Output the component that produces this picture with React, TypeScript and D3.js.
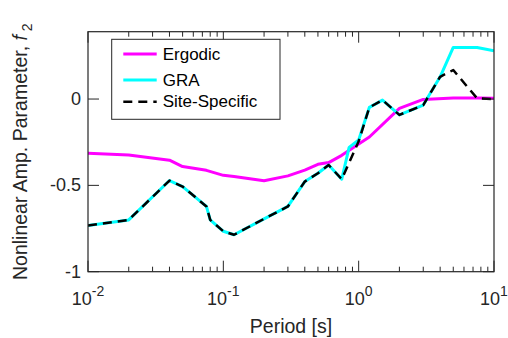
import React from "react";
import * as d3 from "d3";

// Nonlinear amplification parameter f2 versus spectral period
const ergodicPeriod = [0.01, 0.02, 0.04, 0.05, 0.075, 0.1, 0.12, 0.2, 0.3, 0.4, 0.5, 0.6, 0.75, 1, 1.2, 2, 3, 5, 7.5, 10];
const ergodicValue = [-0.314, -0.324, -0.354, -0.391, -0.413, -0.442, -0.449, -0.473, -0.445, -0.412, -0.378, -0.368, -0.326, -0.26, -0.22, -0.054, -0.002, 0.006, 0.006, 0.004];

const graPeriod = [0.01, 0.02, 0.04, 0.05, 0.075, 0.08, 0.1, 0.12, 0.2, 0.3, 0.4, 0.5, 0.6, 0.75, 0.85, 1, 1.2, 1.5, 2, 3, 4, 5, 7.5, 10];
const graValue = [-0.732, -0.7, -0.472, -0.507, -0.622, -0.7, -0.766, -0.786, -0.694, -0.622, -0.478, -0.43, -0.382, -0.464, -0.28, -0.237, -0.048, -0.006, -0.092, -0.035, 0.129, 0.299, 0.299, 0.279];

const sitePeriod = [0.01, 0.02, 0.04, 0.05, 0.075, 0.08, 0.1, 0.12, 0.2, 0.3, 0.4, 0.5, 0.6, 0.75, 1, 1.2, 1.5, 2, 3, 4, 5, 7.5, 10];
const siteValue = [-0.732, -0.7, -0.472, -0.507, -0.622, -0.7, -0.766, -0.786, -0.694, -0.622, -0.478, -0.43, -0.382, -0.464, -0.245, -0.048, -0.006, -0.092, -0.035, 0.129, 0.168, 0.004, 0.0];

const xMajorTicks = [0.01, 0.1, 1, 10];
const xMajorExponents = ["-2", "-1", "0", "1"];
const yTicks = [-1, -0.5, 0];
const yTickLabels = ["-1", "-0.5", "0"];
const legendLabels = ["Ergodic", "GRA", "Site-Specific"];

const W = 508;
const H = 338;
const left = 88;
const right = 494;
const top = 31.7;
const bottom = 271.7;
const ink = "#262626";
const font = "'Liberation Sans', Arial, Helvetica, sans-serif";

export default function App() {
  const x = d3.scaleLog().domain([0.01, 10]).range([left, right]);
  const y = d3.scaleLinear().domain([-1, 0.39]).range([bottom, top]);

  const line = d3
    .line<[number, number]>()
    .x((d) => x(d[0]))
    .y((d) => y(d[1]));

  const zip = (p: number[], v: number[]) => p.map((t, i) => [t, v[i]] as [number, number]);

  const minorTicks: number[] = [];
  for (let e = -2; e < 1; e++) {
    for (let m = 2; m <= 9; m++) minorTicks.push(m * Math.pow(10, e));
  }

  const majorLen = 11;
  const minorLen = 5;

  const legendX = 111.7;
  const legendY = 39.3;
  const legendW = 168.3;
  const legendH = 80;
  const rowsY = [54, 80, 101.7];

  return (
    <svg
      width={W}
      height={H}
      style={{ position: "absolute", left: 0, top: 0, background: "#fff" }}
      fontFamily={font}
    >
      <defs>
        <clipPath id="plotArea">
          <rect x={left} y={top} width={right - left} height={bottom - top} />
        </clipPath>
      </defs>

      <g clipPath="url(#plotArea)" fill="none" strokeLinejoin="round">
        <path d={line(zip(ergodicPeriod, ergodicValue)) || ""} stroke="#ff00ff" strokeWidth={3} />
        <path d={line(zip(graPeriod, graValue)) || ""} stroke="#00ffff" strokeWidth={3} />
        <path
          d={line(zip(sitePeriod, siteValue)) || ""}
          stroke="#000"
          strokeWidth={2.5}
          strokeDasharray="9,6"
        />
      </g>

      {/* axes box */}
      <rect x={left} y={top} width={right - left} height={bottom - top} fill="none" stroke={ink} strokeWidth={1.2} />

      {/* x ticks, bottom and top, pointing inward */}
      <g stroke={ink} strokeWidth={1}>
        {xMajorTicks.map((t) => (
          <g key={"M" + t}>
            <line x1={x(t)} x2={x(t)} y1={bottom} y2={bottom - majorLen} />
            <line x1={x(t)} x2={x(t)} y1={top} y2={top + majorLen} />
          </g>
        ))}
        {minorTicks.map((t) => (
          <g key={"m" + t}>
            <line x1={x(t)} x2={x(t)} y1={bottom} y2={bottom - minorLen} />
            <line x1={x(t)} x2={x(t)} y1={top} y2={top + minorLen} />
          </g>
        ))}
        {yTicks.map((t) => (
          <g key={"y" + t}>
            <line x1={left} x2={left + majorLen} y1={y(t)} y2={y(t)} />
            <line x1={right} x2={right - majorLen} y1={y(t)} y2={y(t)} />
          </g>
        ))}
      </g>

      {/* tick labels */}
      <g fill={ink} fontSize={18}>
        {xMajorTicks.map((t, i) => (
          <text key={"xl" + t} x={x(t)} y={305} textAnchor="middle">
            10
            <tspan fontSize={14} dy={-9}>
              {xMajorExponents[i]}
            </tspan>
          </text>
        ))}
        {yTicks.map((t, i) => (
          <text key={"yl" + t} x={81} y={y(t)} textAnchor="end" dominantBaseline="central">
            {yTickLabels[i]}
          </text>
        ))}
      </g>

      {/* axis labels */}
      <text x={(left + right) / 2} y={333} textAnchor="middle" fontSize={19.5} fill={ink}>
        Period [s]
      </text>
      <text
        transform={`translate(26.5, ${(top + bottom) / 2}) rotate(-90)`}
        textAnchor="middle"
        fontSize={19.5}
        fill={ink}
      >
        Nonlinear Amp. Parameter,{"  "}
        <tspan fontStyle="italic">f</tspan>
        <tspan fontSize={14} dy={5}>
          {" "}2
        </tspan>
      </text>

      {/* legend */}
      <g>
        <rect x={legendX} y={legendY} width={legendW} height={legendH} fill="#fff" stroke={ink} strokeWidth={1} />
        <line x1={123.3} x2={156.7} y1={rowsY[0]} y2={rowsY[0]} stroke="#ff00ff" strokeWidth={3} />
        <line x1={123.3} x2={156.7} y1={rowsY[1]} y2={rowsY[1]} stroke="#00ffff" strokeWidth={3} />
        <line
          x1={123.3}
          x2={156.7}
          y1={rowsY[2]}
          y2={rowsY[2]}
          stroke="#000"
          strokeWidth={2.5}
          strokeDasharray="9,6"
        />
        {legendLabels.map((s, i) => (
          <text key={s} x={162.7} y={rowsY[i]} dominantBaseline="central" fontSize={17} fill="#000">
            {s}
          </text>
        ))}
      </g>
    </svg>
  );
}
